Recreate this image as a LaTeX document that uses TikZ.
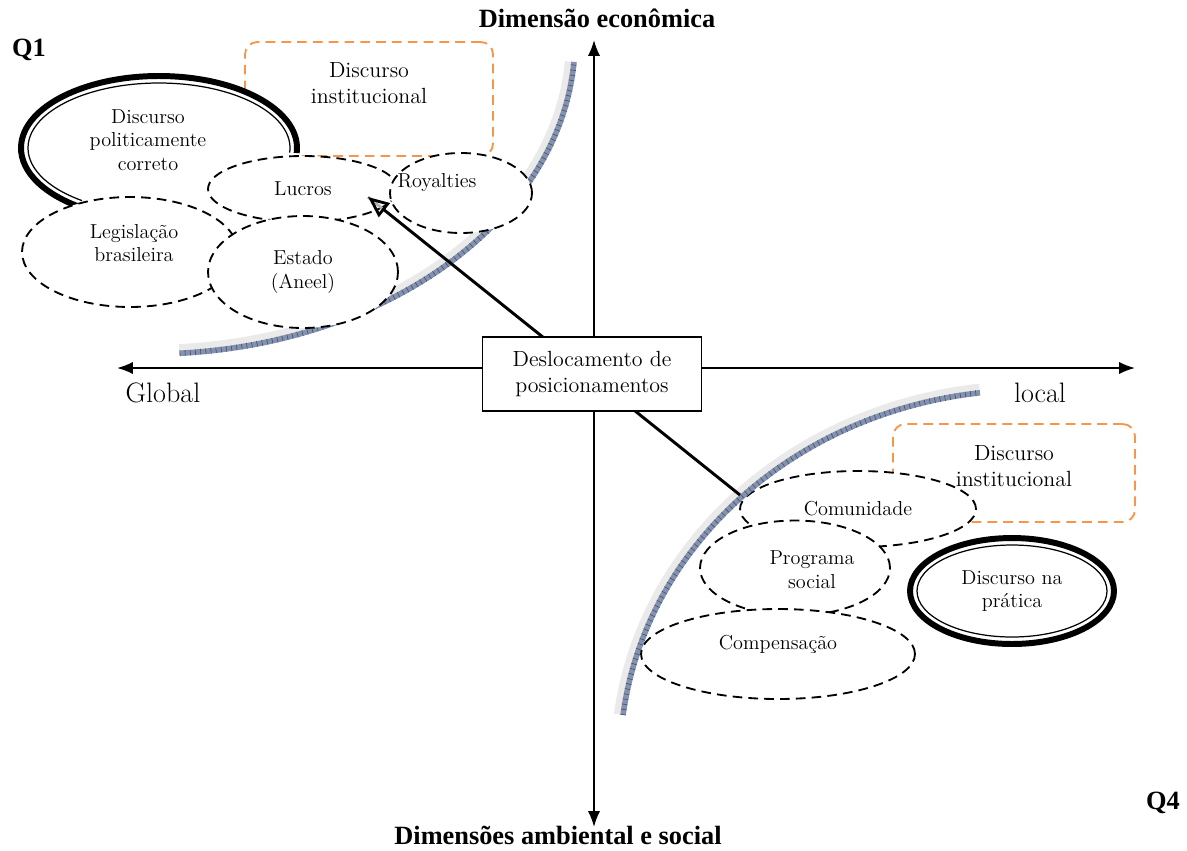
\documentclass[tikz,border=0pt]{standalone}
\usepackage{fontspec}
\newfontfamily\headfont{Liberation Serif}
\usepackage{tikz}
\usetikzlibrary{shapes.geometric,arrows.meta,calc}

\definecolor{instorange}{RGB}{247,150,70}
\definecolor{bandblue}{RGB}{130,146,176}
\definecolor{bandgray}{RGB}{234,234,234}

\begin{document}
\begin{tikzpicture}[x=0.02cm,y=-0.02cm,
    lbl/.style={align=center,font=\fontsize{11.5}{13.5}\selectfont},
    bigtxt/.style={align=center,font=\fontsize{12.5}{15}\selectfont},
    axlbl/.style={font=\fontsize{16}{18}\selectfont},
    headlbl/.style={font=\headfont\bfseries\fontsize{15}{17}\selectfont},
    dashell/.style={ellipse,draw,fill=white,line width=1.05pt,dash pattern=on 5.5pt off 3.5pt,inner sep=0pt,lbl},
    instbox/.style={draw=instorange,line width=1.05pt,dash pattern=on 5.5pt off 3.5pt,rounded corners=7pt,inner sep=0pt},
    band/.style={line width=3.2pt,color=bandblue},
    bandtick/.style={line width=3.2pt,color=bandblue!55!black,dash pattern=on 0.35pt off 2.6pt},
    bandshade/.style={line width=3.6pt,color=bandgray},
    axis/.style={line width=1.1pt,{Latex[length=9pt,width=7pt]}-{Latex[length=9pt,width=7pt]}},
    thickring/.style={line width=3.4pt},
    thinring/.style={line width=0.7pt}]
    \useasboundingbox (0,0) rectangle (1187,850);
    %% axes
    \coordinate (axW) at (117,368);
    \coordinate (axE) at (1135,368);
    \coordinate (axN) at (594,40);
    \coordinate (axS) at (594,827);
    \draw[axis] (axW) -- (axE);
    \draw[axis] (axN) -- (axS);

    %% Q1
    \node (inst1) [instbox, minimum width=4.96cm, minimum height=2.28cm,
      label={[bigtxt,shift={(0,-16)}]center:Discurso\\institucional}] at (369,99) {};
    \coordinate (pc) at (159,148);
    \fill[white] (pc) ellipse [x radius=138, y radius=72];
    \draw[thickring] ([shift={(4:138 and 72)}]pc) arc[start angle=4, end angle=-234, x radius=138, y radius=72];
    \draw[thinring] ([shift={(4:131 and 65)}]pc) arc[start angle=4, end angle=-234, x radius=131, y radius=65];
    \node (correto) [lbl] at (148,140) {Discurso\\politicamente\\correto};
    % curved band
    \coordinate (b1) at (150,40);
    \draw[bandshade] ([shift={(86:419 and 308)}]b1) arc[start angle=86, end angle=4, x radius=419, y radius=308];
    \draw[band] ([shift={(86:425 and 314)}]b1) arc[start angle=86, end angle=4, x radius=425, y radius=314];
    \draw[bandtick] ([shift={(86:425 and 314)}]b1) arc[start angle=86, end angle=4, x radius=425, y radius=314];
    \node (legis) [dashell, minimum width=4.32cm, minimum height=2.2cm,
      label={[lbl,shift={(4,-9)}]center:Legisla\c{c}\~ao\\brasileira}] at (130,252) {};
    \node (lucros) [dashell, minimum width=3.8cm, minimum height=1.32cm] at (303,189) {Lucros};
    \node (royal) [dashell, minimum width=2.84cm, minimum height=1.6cm,
      label={[lbl,shift={(-24,-10)}]center:Royalties}] at (461,193) {};
    \node (estado) [dashell, minimum width=3.8cm, minimum height=2.24cm] at (303,272) {Estado\\(Aneel)};

    %% Q4
    \node (inst4) [instbox, minimum width=4.84cm, minimum height=1.96cm,
      label={[bigtxt,shift={(0,-7)}]center:Discurso\\institucional}] at (1014,473) {};
    \node (comun) [dashell, minimum width=4.72cm, minimum height=1.52cm] at (858,509) {Comunidade};
    \coordinate (b4) at (1030,760);
    \draw[bandshade] ([shift={(187:416 and 376)}]b4) arc[start angle=187, end angle=263, x radius=416, y radius=376];
    \draw[band] ([shift={(187:410 and 370)}]b4) arc[start angle=187, end angle=263, x radius=410, y radius=370];
    \draw[bandtick] ([shift={(187:410 and 370)}]b4) arc[start angle=187, end angle=263, x radius=410, y radius=370];
    \node (prog) [dashell, minimum width=3.8cm, minimum height=1.9cm,
      label={[lbl,shift={(17,2)}]center:Programa\\social}] at (795,568) {};
    \node (comp) [dashell, minimum width=5.48cm, minimum height=1.8cm,
      label={[lbl,shift={(0,-10)}]center:Compensa\c{c}\~ao}] at (778,654) {};
    \node (pratica) [ellipse, draw, fill=white, thickring, inner sep=0pt, lbl,
      minimum width=4.08cm, minimum height=2.12cm] at (1012,591) {Discurso na\\pr\'atica};
    \draw[thinring] (pratica.center) ellipse [x radius=95, y radius=46];

    %% shift of positions
    \coordinate (src) at (740,495);
    \coordinate (tip) at (368,197);
    \draw[gray!60, line width=1.7pt, shift={(2,2)}] (src) -- (tip);
    \draw[line width=1.6pt, -{Triangle[open,length=12pt,width=10pt]}] (src) -- (tip);
    \node (desloc) [draw, fill=white, line width=1pt, bigtxt,
      minimum width=4.38cm, minimum height=1.48cm] at (592,374) {Deslocamento de\\posicionamentos};

    %% labels
    \node (global) [axlbl] at (163,393) {Global};
    \node (local) [axlbl] at (1040,393) {local};
    \node (econ) [headlbl] at (597,18) {Dimensão econômica};
    \node (ambsoc) [headlbl] at (558,835) {Dimensões ambiental e social};
    \node (q1) [headlbl] at (29,50) {Q1};
    \node (q4) [headlbl] at (1163,803) {Q4};
\end{tikzpicture}
\end{document}
